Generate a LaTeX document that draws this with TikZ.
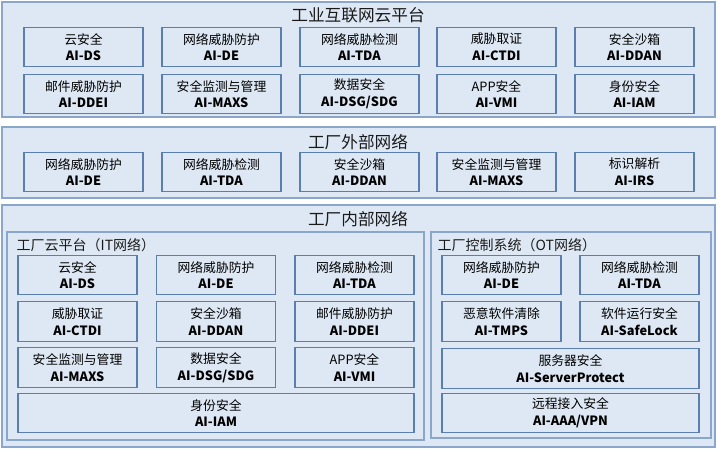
\documentclass[tikz,border=0pt]{standalone}
\usepackage{fontspec}
\setmainfont{Noto Sans CJK SC}
\definecolor{panelfill}{HTML}{DEE8F4}
\definecolor{panelline}{HTML}{8AA6CB}
\definecolor{cellline}{HTML}{5A7EAE}
\definecolor{titletext}{HTML}{1A1A1A}
\tikzset{
  panel/.style={draw=panelline, line width=1.1pt, fill=panelfill},
  cell/.style={draw=cellline, line width=0.8pt, fill=panelfill, align=center,
    minimum width=89.25pt, minimum height=29.5pt, inner sep=0pt,
    font=\fontsize{9.6}{12.5}\selectfont},
  widecell/.style={cell, minimum width=#1},
  bigtitle/.style={font=\fontsize{12.5}{14}\selectfont, text=titletext},
  subtitle/.style={font=\fontsize{10.5}{12}\selectfont, anchor=west, text=titletext}
}
\begin{document}
\begin{tikzpicture}[x=0.75pt, y=-0.75pt]
    \useasboundingbox (0,0) rectangle (718,449);

    % industrial internet cloud platform
    \draw [panel] (2,2) rectangle (715,117);
    \node [bigtitle] (cloudtitle) at (358,15) {工业互联网云平台};
    \node [cell] (c1) at (83.5,47) {云安全\\\textbf{AI-DS}};
    \node [cell] (c2) at (221.5,47) {网络威胁防护\\\textbf{AI-DE}};
    \node [cell] (c3) at (359.5,47) {网络威胁检测\\\textbf{AI-TDA}};
    \node [cell] (c4) at (496.5,47) {威胁取证\\\textbf{AI-CTDI}};
    \node [cell] (c5) at (634.5,47) {安全沙箱\\\textbf{AI-DDAN}};
    \node [cell] (c6) at (83.5,94) {邮件威胁防护\\\textbf{AI-DDEI}};
    \node [cell] (c7) at (221.5,94) {安全监测与管理\\\textbf{AI-MAXS}};
    \node [cell] (c8) at (359.5,94) {数据安全\\\textbf{AI-DSG/SDG}};
    \node [cell] (c9) at (496.5,94) {APP安全\\\textbf{AI-VMI}};
    \node [cell] (c10) at (634.5,94) {身份安全\\\textbf{AI-IAM}};

    % factory external network
    \draw [panel] (2,127) rectangle (715,198);
    \node [bigtitle] (exttitle) at (358,142) {工厂外部网络};
    \node [cell] (e1) at (83.5,172) {网络威胁防护\\\textbf{AI-DE}};
    \node [cell] (e2) at (221.5,172) {网络威胁检测\\\textbf{AI-TDA}};
    \node [cell] (e3) at (359.5,172) {安全沙箱\\\textbf{AI-DDAN}};
    \node [cell] (e4) at (496.5,172) {安全监测与管理\\\textbf{AI-MAXS}};
    \node [cell] (e5) at (634.5,172) {标识解析\\\textbf{AI-IRS}};

    % factory internal network
    \draw [panel] (2,205) rectangle (715,447);
    \node [bigtitle] (inttitle) at (358,219) {工厂内部网络};

    % IT network
    \draw [panel] (7,232) rectangle (424,440);
    \node [subtitle] (ittitle) at (12,245) {工厂云平台（IT网络）};
    \node [cell] (i1) at (77.5,275) {云安全\\\textbf{AI-DS}};
    \node [cell] (i2) at (216,275) {网络威胁防护\\\textbf{AI-DE}};
    \node [cell] (i3) at (354.5,275) {网络威胁检测\\\textbf{AI-TDA}};
    \node [cell] (i4) at (77.5,321.5) {威胁取证\\\textbf{AI-CTDI}};
    \node [cell] (i5) at (216,321.5) {安全沙箱\\\textbf{AI-DDAN}};
    \node [cell] (i6) at (354.5,321.5) {邮件威胁防护\\\textbf{AI-DDEI}};
    \node [cell] (i7) at (77.5,367.5) {安全监测与管理\\\textbf{AI-MAXS}};
    \node [cell] (i8) at (216,367.5) {数据安全\\\textbf{AI-DSG/SDG}};
    \node [cell] (i9) at (354.5,367.5) {APP安全\\\textbf{AI-VMI}};
    \node [widecell=297pt] (i10) at (216,413) {身份安全\\\textbf{AI-IAM}};

    % OT network
    \draw [panel] (431,232) rectangle (711,438);
    \node [subtitle] (ottitle) at (433,245) {工厂控制系统（OT网络）};
    \node [cell] (o1) at (501.5,275) {网络威胁防护\\\textbf{AI-DE}};
    \node [cell] (o2) at (639.5,275) {网络威胁检测\\\textbf{AI-TDA}};
    \node [cell] (o3) at (501.5,321.5) {恶意软件清除\\\textbf{AI-TMPS}};
    \node [cell] (o4) at (639.5,321.5) {软件运行安全\\\textbf{AI-SafeLock}};
    \node [widecell=192.75pt] (o5) at (570.5,368.5) {服务器安全\\\textbf{AI-ServerProtect}};
    \node [widecell=192.75pt] (o6) at (570.5,413) {远程接入安全\\\textbf{AI-AAA/VPN}};
  \end{tikzpicture}
\end{document}
